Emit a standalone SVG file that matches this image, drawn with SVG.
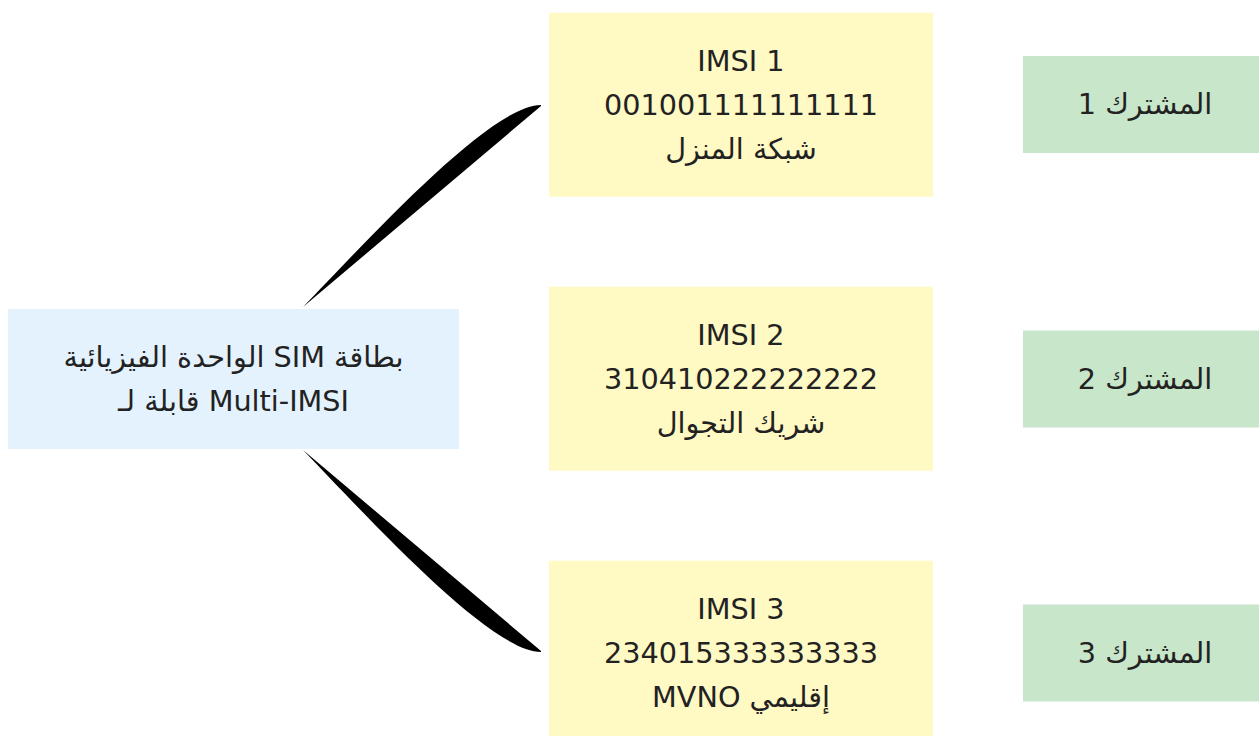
<svg xmlns="http://www.w3.org/2000/svg" width="1259" height="736" viewBox="0 0 1259 736">
<style>
text{font-family:"DejaVu Sans","Noto Sans",sans-serif;font-size:28.7px;fill:#222;text-anchor:middle}
.root{fill:#E3F2FD}
.imsi{fill:#FFF9C4}
.sub{fill:#C8E6C9}
.edge{fill:#000;stroke:none}
</style>
<rect width="1259" height="736" fill="#fff"/>
<g id="connectors">
<path class="edge" d="M303,307 C367,241 490,105 541,105 L541,106 L303,307 Z"/>
<path class="edge" d="M303,450 C367,516 490,652 541,652 L541,651 L303,450 Z"/>
</g>
<g id="root">
<rect class="root" x="8" y="309" width="451" height="140"/>
<text x="233.5" y="366.5">الواحدة الفيزيائية SIM بطاقة</text>
<text x="233.5" y="410.5">قابلة لـ Multi-IMSI</text>
</g>
<g id="imsi1">
<rect class="imsi" x="549" y="12.7" width="384" height="184"/>
<text x="741" y="71">IMSI 1</text>
<text x="741" y="115">001001111111111</text>
<text x="741" y="159" direction="rtl">شبكة المنزل</text>
</g>
<g id="imsi2">
<rect class="imsi" x="549" y="286.7" width="384" height="184"/>
<text x="741" y="345">IMSI 2</text>
<text x="741" y="389">310410222222222</text>
<text x="741" y="433" direction="rtl">شريك التجوال</text>
</g>
<g id="imsi3">
<rect class="imsi" x="549" y="560.7" width="384" height="184"/>
<text x="741" y="619">IMSI 3</text>
<text x="741" y="663">234015333333333</text>
<text x="741" y="707">MVNO إقليمي</text>
</g>
<g id="sub1">
<rect class="sub" x="1023" y="56" width="236" height="97"/>
<text x="1145" y="114" direction="rtl">المشترك 1</text>
</g>
<g id="sub2">
<rect class="sub" x="1023" y="330.5" width="236" height="97"/>
<text x="1145" y="388.5" direction="rtl">المشترك 2</text>
</g>
<g id="sub3">
<rect class="sub" x="1023" y="604.5" width="236" height="97"/>
<text x="1145" y="662.5" direction="rtl">المشترك 3</text>
</g>
</svg>
